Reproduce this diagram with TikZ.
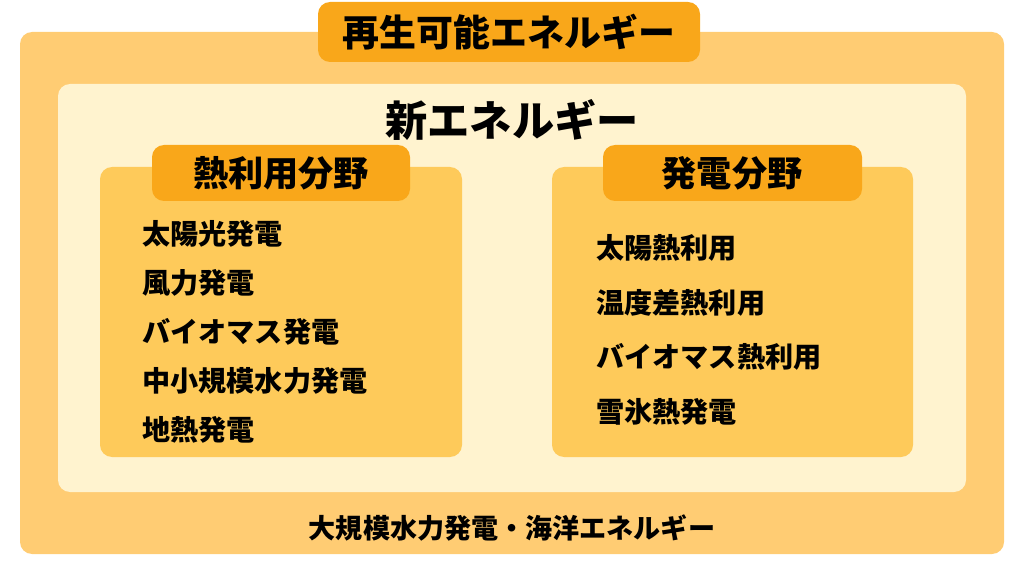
\documentclass[tikz,border=0pt]{standalone}
\usepackage{fontspec}
\newfontfamily\jp{Noto Sans CJK JP}
\usetikzlibrary{positioning}
\definecolor{outerbg}{HTML}{FFCC73}
\definecolor{creambg}{HTML}{FFF3CF}
\definecolor{fieldbg}{HTML}{FECA5A}
\definecolor{tabbg}{HTML}{F9A71A}
\tikzset{
  panel/.style={rounded corners=1.2mm},
  tabtext/.style={font=\jp\bfseries\fontsize{10.5pt}{12pt}\selectfont},
  itemtext/.style={anchor=west, font=\jp\bfseries\fontsize{8pt}{10pt}\selectfont}
}
\begin{document}
\begin{tikzpicture}[x=0.01cm,y=-0.01cm]
  \useasboundingbox (0,0) rectangle (1024,576);
  % outer and inner panels
  \fill[outerbg,panel] (20,32) rectangle (1004,554);
  \fill[creambg,panel] (58,84) rectangle (966,492);
  \fill[fieldbg,panel] (100,167) rectangle (462,457);
  \fill[fieldbg,panel] (552,167) rectangle (913,457);
  % tabs
  \fill[tabbg,panel] (318,2) rectangle (700,62);
  \fill[tabbg,panel] (152,145) rectangle (410,201);
  \fill[tabbg,panel] (603,145) rectangle (862,201);
  \node[tabtext] (title) at (509,32) {再生可能エネルギー};
  \node[font=\jp\bfseries\fontsize{12pt}{14pt}\selectfont] (newe) at (512,120) {新エネルギー};
  \node[tabtext,font=\jp\bfseries\fontsize{10pt}{12pt}\selectfont] (heat) at (281,173) {熱利用分野};
  \node[tabtext,font=\jp\bfseries\fontsize{10pt}{12pt}\selectfont] (power) at (732,173) {発電分野};
  % left items
  \foreach \t [count=\i] in {太陽光発電,風力発電,バイオマス発電,中小規模水力発電,地熱発電}
    \node[itemtext] (l\i) at (130,185+49*\i) {\t};
  % right items
  \foreach \t [count=\i] in {太陽熱利用,温度差熱利用,バイオマス熱利用,雪氷熱発電}
    \node[itemtext] (r\i) at (584,193+54.7*\i) {\t};
  \node[font=\jp\bfseries\fontsize{7.7pt}{9pt}\selectfont] (other) at (512,528) {大規模水力発電・海洋エネルギー};
\end{tikzpicture}
\end{document}
